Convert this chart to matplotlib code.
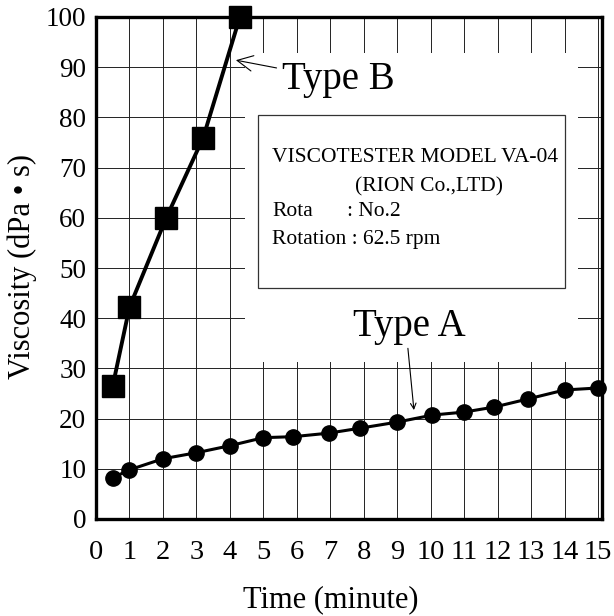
import matplotlib
matplotlib.use("Agg")
import matplotlib.pyplot as plt
from matplotlib.patches import Rectangle

# readings from the chart
time_a = [0.5, 1, 2, 3, 4, 5, 5.9, 6.95, 7.9, 9, 10.05, 11, 11.9, 12.9, 14, 15]
visc_a = [8.2, 9.8, 12.0, 13.2, 14.6, 16.2, 16.4, 17.1, 18.1, 19.3, 20.7, 21.3, 22.3, 23.9, 25.7, 26.1]
time_b = [0.5, 1, 2.1, 3.2, 4.3]
visc_b = [26.5, 42.2, 60, 75.9, 100]

x_ticks = list(range(0, 16))
y_ticks = list(range(0, 101, 10))

info_lines = ["VISCOTESTER MODEL VA-04", "(RION Co.,LTD)", "Rota", ": No.2", "Rotation : 62.5 rpm"]

plt.rcParams["font.family"] = ["Liberation Serif", "DejaVu Serif"]

W, H = 614, 616
fig = plt.figure(figsize=(W / 100, H / 100), dpi=100)
ax = fig.add_axes([96 / W, 1 - 519 / H, 506 / W, 502 / H])

ax.set_xlim(0, 15.12)
ax.set_ylim(0, 100)
ax.set_xticks(x_ticks)
ax.set_yticks(y_ticks)
ax.tick_params(axis="both", length=0)
ax.tick_params(axis="x", pad=15, labelsize=20.5)
ax.tick_params(axis="y", pad=7, labelsize=19.5)

ax.set_axisbelow(True)
ax.grid(True, color="#222222", linewidth=0.7)
for side in ["left", "bottom", "top", "right"]:
    ax.spines[side].set_linewidth(2.4)

# blank area where the grid is hidden behind the labels / info box
ax.add_patch(Rectangle((4.45, 31.3), 14.4 - 4.45, 92.8 - 31.3,
                       facecolor="white", edgecolor="none", zorder=1))
ax.add_patch(Rectangle((4.84, 46.0), 14.01 - 4.84, 80.5 - 46.0,
                       facecolor="white", edgecolor="#333333", linewidth=0.9, zorder=1.5))

ax.plot(time_b, visc_b, color="black", linewidth=2.8, marker="s", markersize=16,
        zorder=4, clip_on=False)
ax.plot(time_a, visc_a, color="black", linewidth=2.2, marker="o", markersize=11,
        zorder=4, clip_on=False)

ax.text(5.26, 72.1, info_lines[0], fontsize=15.5, va="center", ha="left", zorder=5)
ax.text(7.74, 66.1, info_lines[1], fontsize=15.5, va="center", ha="left", zorder=5)
ax.text(5.26, 61.2, info_lines[2], fontsize=15.5, va="center", ha="left", zorder=5)
ax.text(7.5, 61.2, info_lines[3], fontsize=15.5, va="center", ha="left", zorder=5)
ax.text(5.26, 55.6, info_lines[4], fontsize=15.5, va="center", ha="left", zorder=5)

ax.annotate("Type B", xy=(4.18, 91.4), xytext=(5.56, 87.5), fontsize=28,
            va="center", ha="left", zorder=5,
            arrowprops=dict(arrowstyle="->", color="black", lw=0.8,
                            shrinkA=2, shrinkB=0))
ax.annotate("Type A", xy=(9.5, 21.7), xytext=(7.68, 38.4), fontsize=28,
            va="center", ha="left", zorder=5, color="black")
ax.annotate("", xy=(9.5, 21.7), xytext=(9.32, 34.0),
            arrowprops=dict(arrowstyle="->", color="black", lw=0.8,
                            shrinkA=0, shrinkB=0), zorder=5)

fig.text(22 / W, 1 - 266 / H, "Viscosity (dPa • s)", rotation=90,
         fontsize=22, ha="center", va="center")
fig.text(331 / W, 1 - 600 / H, "Time (minute)", fontsize=22,
         ha="center", va="center")

fig.savefig("out.png", dpi=100)
